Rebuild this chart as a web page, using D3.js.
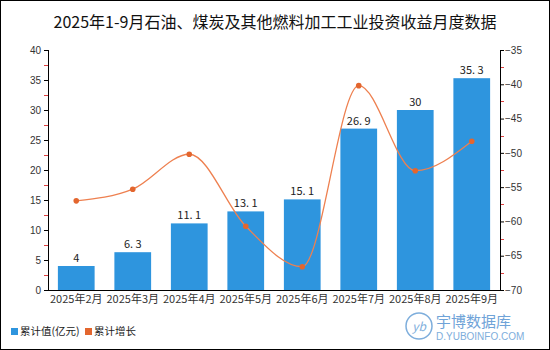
<!DOCTYPE html>
<html><head><meta charset="utf-8">
<script src="https://cdn.jsdelivr.net/npm/d3@7"></script>
<style>body{margin:0;background:#fff}svg{display:block;font-family:"Noto Sans CJK SC","Liberation Sans",sans-serif}</style>
</head><body>
<svg id="c" width="550" height="350"></svg>
<script>
const categories = ["2025年2月","2025年3月","2025年4月","2025年5月","2025年6月","2025年7月","2025年8月","2025年9月"];
const cumValue = [4, 6.3, 11.1, 13.1, 15.1, 26.9, 30, 35.3];
const cumGrowth = [-57.0, -55.3, -50.2, -60.7, -66.6, -40.2, -52.6, -48.3];
const leftTicks = [0,5,10,15,20,25,30,35,40];
const rightTicks = [-70,-65,-60,-55,-50,-45,-40,-35];
const title = "2025年1-9月石油、煤炭及其他燃料加工工业投资收益月度数据";
const legendLabels = ["累计值(亿元)","累计增长"];

const svg = d3.select("#c");
const W=550,H=350, L=48, R=500, T=50, B=290;
const barColor="#2E95DE", lineColor="#EE8050", dotColor="#E3662E";

svg.append("rect").attr("x",0.5).attr("y",0.5).attr("width",W-1).attr("height",H-1).attr("fill","#fff").attr("stroke","#000");

svg.append("text").attr("x",W/2).attr("y",28).attr("text-anchor","middle").attr("font-size",16).attr("fill","#111").text(title);

const x = d3.scaleBand().domain(categories).range([L,R]).paddingInner(0.35).paddingOuter(0.175);
const y = d3.scaleLinear().domain([0,40]).range([B,T]);
const y2 = d3.scaleLinear().domain([-70,-35]).range([B,T]);

// minor ticks
const minorL = d3.range(2.5,40,5);
svg.append("g").selectAll("line").data(minorL).join("line")
  .attr("x1",L-4).attr("x2",L).attr("y1",d=>Math.round(y(d))+0.5).attr("y2",d=>Math.round(y(d))+0.5).attr("stroke","#e04040");
const minorR = d3.range(-67.5,-35,5);
svg.append("g").selectAll("line").data(minorR).join("line")
  .attr("x1",R).attr("x2",R+4).attr("y1",d=>Math.round(y2(d))+0.5).attr("y2",d=>Math.round(y2(d))+0.5).attr("stroke","#e04040");

// bars
svg.append("g").selectAll("rect").data(cumValue).join("rect")
  .attr("x",(d,i)=>x(categories[i])).attr("width",x.bandwidth())
  .attr("y",d=>y(d)).attr("height",d=>B-y(d)).attr("fill",barColor);

svg.append("g").selectAll("text").data(cumValue).join("text")
  .attr("x",(d,i)=>x(categories[i])+x.bandwidth()/2).attr("y",d=>y(d)-4)
  .attr("text-anchor","middle").attr("font-size",11).attr("fill","#222")
  .text(d=>String(d).replace(".",". "));

// axes
const axL = svg.append("g").attr("transform",`translate(${L},0)`).call(d3.axisLeft(y).tickValues(leftTicks).tickSize(4).tickPadding(3));
const axR = svg.append("g").attr("transform",`translate(${R},0)`).call(d3.axisRight(y2).tickValues(rightTicks).tickSize(4).tickPadding(1));
const axB = svg.append("g").attr("transform",`translate(0,${B})`).call(d3.axisBottom(x).tickSize(0).tickPadding(5));
axB.select(".domain").attr("d",`M${L},0.5H${R}`);
[axL,axR,axB].forEach(a=>{a.selectAll("text").attr("font-size",11).attr("fill","#333").attr("font-family","Noto Sans CJK SC, Liberation Sans, sans-serif");a.select(".domain").attr("stroke","#000");a.selectAll(".tick line").attr("stroke","#000");});
axL.selectAll("text").attr("font-family","Liberation Sans, sans-serif").attr("font-size",10);
axR.selectAll("text").attr("font-family","Liberation Sans, sans-serif").attr("font-size",10).text(d=>"\u2212"+Math.abs(d));
axL.select(".domain").attr("d",`M0.5,${T}V${B}`);
axR.select(".domain").attr("d",`M0.5,${T}V${B}`);

// line
const cx=(i)=>x(categories[i])+x.bandwidth()/2;
const line=d3.line().x((d,i)=>cx(i)).y(d=>y2(d)).curve(d3.curveMonotoneX);
svg.append("path").datum(cumGrowth).attr("d",line).attr("fill","none").attr("stroke",lineColor).attr("stroke-width",1.3);
svg.append("g").selectAll("circle").data(cumGrowth).join("circle")
  .attr("cx",(d,i)=>cx(i)).attr("cy",d=>y2(d)).attr("r",2.8).attr("fill",dotColor);

// legend
const lg = svg.append("g");
lg.append("rect").attr("x",11).attr("y",328).attr("width",7).attr("height",7).attr("fill",barColor);
lg.append("text").attr("x",20).attr("y",335).attr("font-size",10.5).attr("fill","#222").text(legendLabels[0]);
lg.append("rect").attr("x",85).attr("y",328).attr("width",7).attr("height",7).attr("fill",dotColor);
lg.append("text").attr("x",94).attr("y",335).attr("font-size",10.5).attr("fill","#222").text(legendLabels[1]);

// watermark
const wm = svg.append("g").attr("fill","#5B9BD5");
wm.append("circle").attr("cx",419).attr("cy",326).attr("r",13).attr("fill","none").attr("stroke","#7EAEDC").attr("stroke-width",1.5);
wm.append("text").attr("x",419).attr("y",331).attr("text-anchor","middle").attr("font-size",12).attr("font-style","italic").attr("fill","#7EAEDC").text("yb");
wm.append("text").attr("x",436).attr("y",327).attr("font-size",15).attr("fill","#6FA3D8").text("宇博数据库");
wm.append("text").attr("x",436).attr("y",340).attr("font-size",10).attr("font-family","Liberation Sans, sans-serif").attr("fill","#7EAEDC").text("D.YUBOINFO.COM");
</script>
</body></html>
